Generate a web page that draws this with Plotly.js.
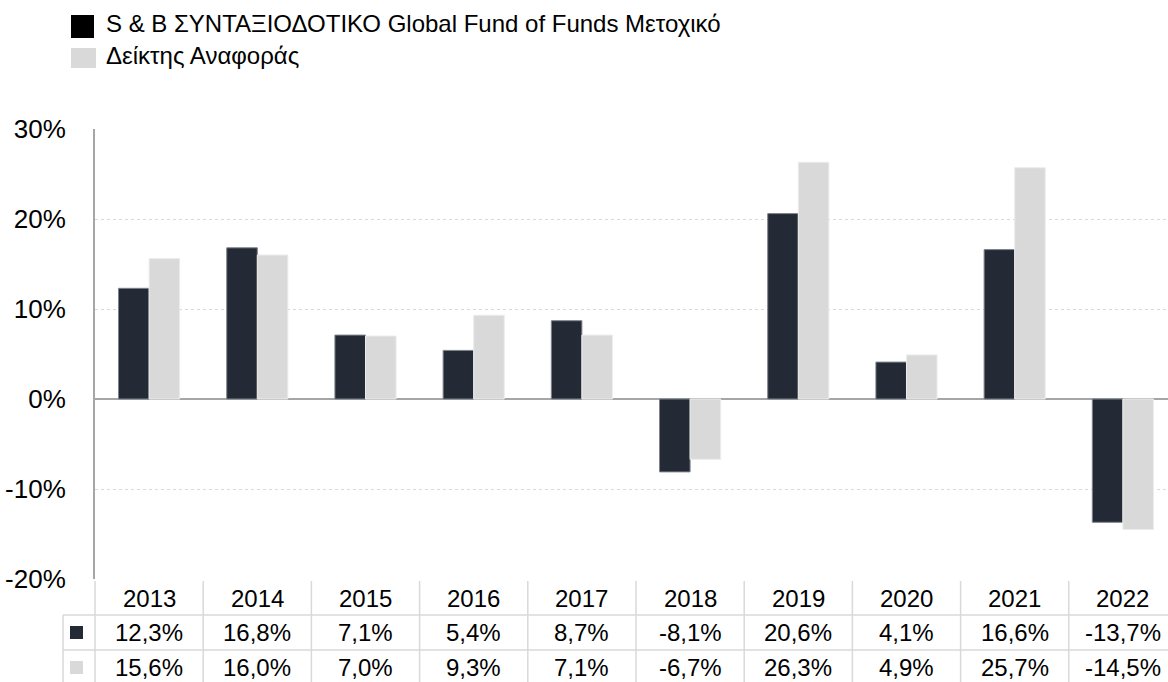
<!DOCTYPE html>
<html>
<head>
<meta charset="utf-8">
<script src="https://cdn.plot.ly/plotly-3.0.1.min.js"></script>
<style>html,body{margin:0;padding:0;background:#fff;}#chart{width:1168px;height:682px;}</style>
</head>
<body>
<div id="chart"></div>
<script>
const years = ['2013','2014','2015','2016','2017','2018','2019','2020','2021','2022'];
const fundName = 'S & B ΣΥΝΤΑΞΙΟΔΟΤΙΚΟ Global Fund of Funds Μετοχικό';
const benchName = 'Δείκτης Αναφοράς';
const fundValues = [12.3, 16.8, 7.1, 5.4, 8.7, -8.1, 20.6, 4.1, 16.6, -13.7];
const benchValues = [15.6, 16.0, 7.0, 9.3, 7.1, -6.7, 26.3, 4.9, 25.7, -14.5];
const yTickVals = [-20, -10, 0, 10, 20, 30];
const yTickText = ['-20%', '-10%', '0%', '10%', '20%', '30%'];

const darkColor = '#232a35';
const lightColor = '#d9d9d9';
const FONT = 'Arial, "Liberation Sans", sans-serif';

// plot-area geometry (pixels)
const W = 1168, H = 682;
const L = 95, T = 129, PW = W - L, PH = 450;
const xMin = -0.5, xMax = 9.417;
const px = x => (x - L) / PW;
const py = y => (T + PH - y) / PH;
const catPx = c => L + (c - xMin) / (xMax - xMin) * PW;

const idx = years.map((_, i) => i);
const fmt = v => v.toFixed(1).replace('.', ',') + '%';

const traces = [
  {type: 'bar', x: idx, y: fundValues, name: fundName,
   marker: {color: darkColor, line: {color: '#7d838c', width: 1}}, hoverinfo: 'skip'},
  {type: 'bar', x: idx, y: benchValues, name: benchName,
   marker: {color: lightColor, line: {color: '#ececec', width: 1}}, hoverinfo: 'skip'}
];

const shapes = [];
const annotations = [];
const gridC = '#d9d9d9';

// table lines
const rowTop = 581, row1 = 615, row2 = 650, rowBot = 690;
for (let k = 0; k <= years.length; k++) {
  const xb = catPx(k - 0.5);
  shapes.push({type: 'line', xref: 'paper', yref: 'paper', x0: px(xb), x1: px(xb),
    y0: py(rowTop), y1: py(rowBot), line: {color: gridC, width: 1.5}});
}
shapes.push({type: 'line', xref: 'paper', yref: 'paper', x0: px(63), x1: px(63),
  y0: py(row1), y1: py(rowBot), line: {color: gridC, width: 1.5}});
[row1, row2].forEach(r => shapes.push({type: 'line', xref: 'paper', yref: 'paper',
  x0: px(63), x1: 1.01, y0: py(r), y1: py(r), line: {color: gridC, width: 1.5}}));

// table marker squares
shapes.push({type: 'rect', xref: 'paper', yref: 'paper', x0: px(70), x1: px(83),
  y0: py(626), y1: py(639), fillcolor: darkColor, line: {width: 0}});
shapes.push({type: 'rect', xref: 'paper', yref: 'paper', x0: px(70), x1: px(83),
  y0: py(661), y1: py(674), fillcolor: lightColor, line: {width: 0}});

// table text
const tFont = {family: FONT, size: 24, color: '#000'};
years.forEach((yr, i) => {
  annotations.push({xref: 'x', yref: 'paper', x: i, y: py(598), text: yr, showarrow: false,
    xanchor: 'center', yanchor: 'middle', font: tFont});
  annotations.push({xref: 'x', yref: 'paper', x: i, y: py(632.5), text: fmt(fundValues[i]), showarrow: false,
    xanchor: 'center', yanchor: 'middle', font: tFont});
  annotations.push({xref: 'x', yref: 'paper', x: i, y: py(667.5), text: fmt(benchValues[i]), showarrow: false,
    xanchor: 'center', yanchor: 'middle', font: tFont});
});

// legend
shapes.push({type: 'rect', xref: 'paper', yref: 'paper', x0: px(71), x1: px(94),
  y0: py(15), y1: py(38), fillcolor: '#000000', line: {width: 0}});
shapes.push({type: 'rect', xref: 'paper', yref: 'paper', x0: px(71), x1: px(96),
  y0: py(48), y1: py(68), fillcolor: lightColor, line: {width: 0}});
const lFont = {family: FONT, size: 24, color: '#000'};
annotations.push({xref: 'paper', yref: 'paper', x: px(104), y: py(23), text: fundName,
  showarrow: false, xanchor: 'left', yanchor: 'middle', font: lFont});
annotations.push({xref: 'paper', yref: 'paper', x: px(104), y: py(56), text: benchName,
  showarrow: false, xanchor: 'left', yanchor: 'middle', font: lFont});

const layout = {
  width: W, height: H,
  margin: {l: L, r: W - L - PW, t: T, b: H - T - PH, pad: 0},
  paper_bgcolor: '#fff', plot_bgcolor: '#fff',
  showlegend: false,
  barmode: 'group', bargap: 0.435, bargroupgap: 0,
  font: {family: FONT, color: '#000'},
  xaxis: {range: [xMin, xMax], showticklabels: false, showgrid: false, zeroline: false,
    showline: false, ticks: '', fixedrange: true},
  yaxis: {range: [-20, 30], tickmode: 'array', tickvals: yTickVals, ticktext: yTickText,
    tickfont: {family: FONT, size: 26, color: '#000'},
    showgrid: true, gridcolor: gridC, griddash: 'dot', gridwidth: 1,
    zeroline: true, zerolinecolor: '#a6a6a6', zerolinewidth: 2,
    showline: true, linecolor: '#a6a6a6', linewidth: 2, mirror: false,
    ticks: '', ticklabelstandoff: 22, fixedrange: true},
  shapes: shapes,
  annotations: annotations
};

Plotly.newPlot('chart', traces, layout, {displayModeBar: false, staticPlot: true});
</script>
</body>
</html>
